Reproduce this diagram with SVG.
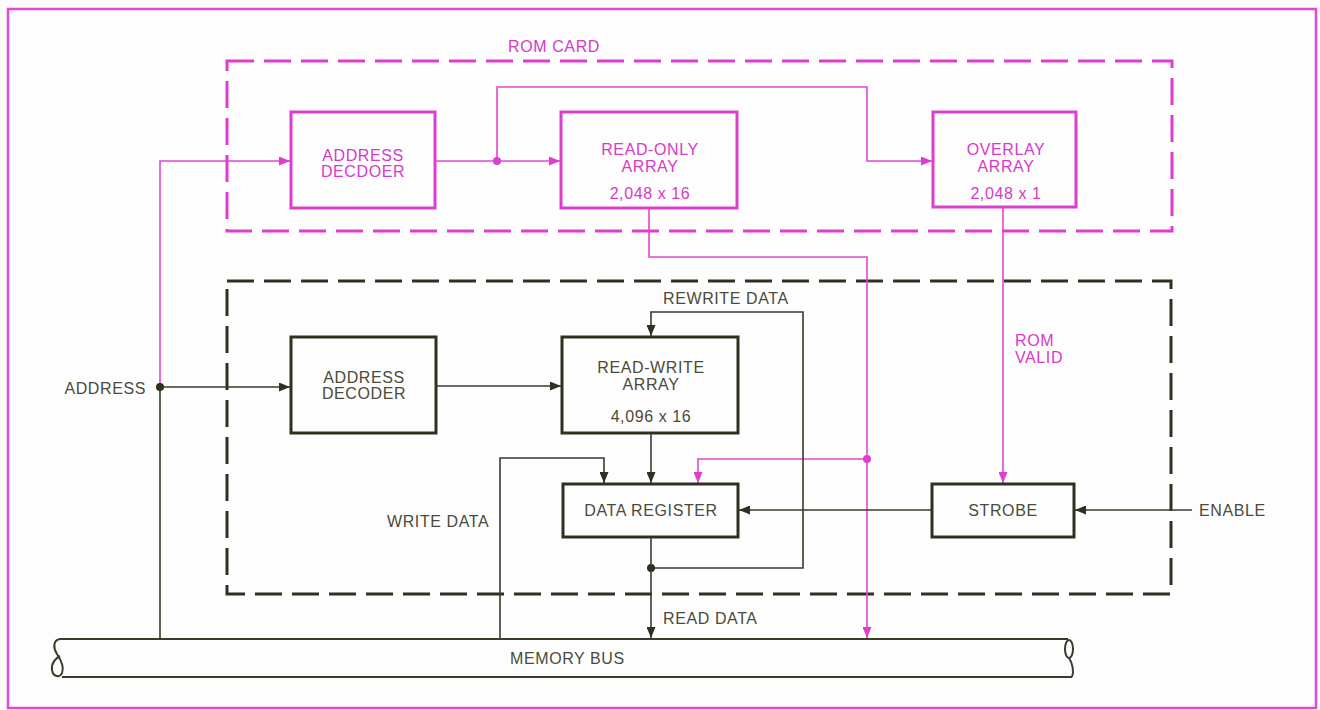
<svg xmlns="http://www.w3.org/2000/svg" width="1320" height="710" viewBox="0 0 1320 710">
<style>
  .bg{fill:#fdfdfd}
  .frame{fill:none;stroke:#e04ad2;stroke-width:2.5}
  .mdash{fill:none;stroke:#e03ccf;stroke-width:3;stroke-dasharray:27 10}
  .ddash{fill:none;stroke:#2f3020;stroke-width:3;stroke-dasharray:27 10}
  .mbox{fill:none;stroke:#dd3fcc;stroke-width:3}
  .dbox{fill:none;stroke:#2f3020;stroke-width:3}
  .mline{fill:none;stroke:#e046d2;stroke-width:1.6}
  .dline{fill:none;stroke:#3a3b2a;stroke-width:1.6}
  .bus{fill:none;stroke:#3a3b2a;stroke-width:2}
  text{font-family:"Liberation Sans",Arial,sans-serif;font-size:16px;letter-spacing:0.6px}
  .mt{fill:#d63ac8}
  .dt{fill:#4a4b3a}
  .c{text-anchor:middle}
</style>
<defs>
  <marker id="ad" markerUnits="userSpaceOnUse" markerWidth="11" markerHeight="9" refX="11" refY="4.5" orient="auto">
    <path d="M0,0 L11,4.5 L0,9 z" fill="#2f3020"/>
  </marker>
  <marker id="am" markerUnits="userSpaceOnUse" markerWidth="11" markerHeight="9" refX="11" refY="4.5" orient="auto">
    <path d="M0,0 L11,4.5 L0,9 z" fill="#e03ccf"/>
  </marker>
</defs>
<rect class="bg" x="0" y="0" width="1320" height="710"/>
<rect class="frame" x="8" y="9" width="1308" height="699"/>

<g id="rom-card">
  <rect class="mdash" x="227" y="61" width="945" height="170"/>
  <text class="mt c" x="554" y="52">ROM CARD</text>
</g>
<g id="ram-card">
  <rect class="ddash" x="227" y="281" width="944" height="313"/>
</g>

<g id="connectors">
  <path class="mline" d="M160,387 V161 H290" marker-end="url(#am)"/>
  <path class="mline" d="M435,161 H560" marker-end="url(#am)"/>
  <path class="mline" d="M497,161 V87 H867 V161 H932" marker-end="url(#am)"/>
  <path class="mline" d="M649,208 V257 H867 V638" marker-end="url(#am)"/>
  <path class="mline" d="M867,459 H698 V483" marker-end="url(#am)"/>
  <path class="mline" d="M1003,207 V483" marker-end="url(#am)"/>
  <circle cx="497" cy="161" r="4" fill="#e03ccf"/>
  <circle cx="867" cy="459" r="4" fill="#e03ccf"/>

  <path class="dline" d="M160,639 V387"/>
  <path class="dline" d="M160,387 H290" marker-end="url(#ad)"/>
  <circle cx="160" cy="387" r="4" fill="#2f3020"/>
  <path class="dline" d="M436,386 H561" marker-end="url(#ad)"/>
  <path class="dline" d="M651,433 V483" marker-end="url(#ad)"/>
  <path class="dline" d="M500,639 V458 H604 V483" marker-end="url(#ad)"/>
  <path class="dline" d="M651,537 V638" marker-end="url(#ad)"/>
  <path class="dline" d="M651,568 H803 V312 H651 V336" marker-end="url(#ad)"/>
  <circle cx="651" cy="568" r="4" fill="#2f3020"/>
  <path class="dline" d="M932,510 H739" marker-end="url(#ad)"/>
  <path class="dline" d="M1192,510 H1075" marker-end="url(#ad)"/>
</g>

<g id="rom-address-decoder">
  <rect class="mbox" x="291" y="112" width="144" height="96"/>
  <text class="mt c" x="363" y="161">ADDRESS</text>
  <text class="mt c" x="363" y="177">DECDOER</text>
</g>
<g id="read-only-array">
  <rect class="mbox" x="561" y="112" width="176" height="96"/>
  <text class="mt c" x="650" y="155">READ-ONLY</text>
  <text class="mt c" x="650" y="172">ARRAY</text>
  <text class="mt c" x="650" y="199">2,048 x 16</text>
</g>
<g id="overlay-array">
  <rect class="mbox" x="933" y="112" width="143" height="95"/>
  <text class="mt c" x="1006" y="155">OVERLAY</text>
  <text class="mt c" x="1006" y="172">ARRAY</text>
  <text class="mt c" x="1006" y="199">2,048 x 1</text>
</g>
<g id="ram-address-decoder">
  <rect class="dbox" x="291" y="337" width="145" height="96"/>
  <text class="dt c" x="364" y="383">ADDRESS</text>
  <text class="dt c" x="364" y="399">DECODER</text>
</g>
<g id="read-write-array">
  <rect class="dbox" x="562" y="337" width="176" height="96"/>
  <text class="dt c" x="651" y="373">READ-WRITE</text>
  <text class="dt c" x="651" y="390">ARRAY</text>
  <text class="dt c" x="651" y="422">4,096 x 16</text>
</g>
<g id="data-register">
  <rect class="dbox" x="563" y="484" width="175" height="53"/>
  <text class="dt c" x="651" y="516">DATA REGISTER</text>
</g>
<g id="strobe">
  <rect class="dbox" x="932" y="484" width="142" height="53"/>
  <text class="dt c" x="1003" y="516">STROBE</text>
</g>
<g id="memory-bus">
  <path class="bus" d="M60,639 H1068"/>
  <path class="bus" d="M62,677 H1072"/>
  <path class="bus" d="M60,639 C53,640 53,648 57,654 C61,660 64,668 62,673 C60,678 53,677 52,670 C51,663 56,658 60,656"/>
  <ellipse class="bus" cx="1069" cy="649" rx="4" ry="9"/>
  <path class="bus" d="M1069,658 C1073,664 1074,672 1072,677"/>
  <text class="dt" x="510" y="664">MEMORY BUS</text>
</g>

<g id="labels">
  <text class="dt" x="146" y="394" text-anchor="end">ADDRESS</text>
  <text class="dt" x="663" y="304">REWRITE DATA</text>
  <text class="mt" x="1015" y="346">ROM</text>
  <text class="mt" x="1015" y="363">VALID</text>
  <text class="dt" x="1199" y="516">ENABLE</text>
  <text class="dt" x="387" y="527">WRITE DATA</text>
  <text class="dt" x="663" y="624">READ DATA</text>
</g>
</svg>
